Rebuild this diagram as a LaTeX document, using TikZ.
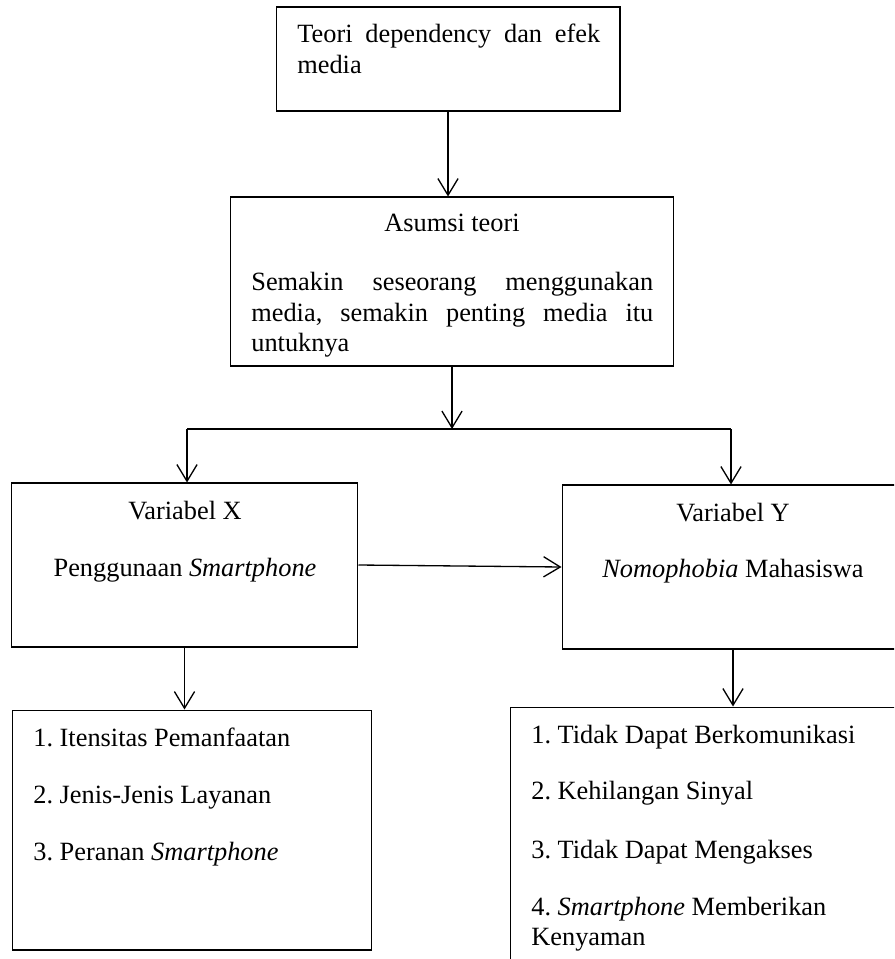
\documentclass[tikz,border=0pt]{standalone}
\usepackage{fontspec}
\setmainfont{Liberation Serif}
\usepackage{tikz}
\usetikzlibrary{arrows.meta}
\hyphenpenalty=10000
\tolerance=9999
\frenchspacing
\setlength{\parindent}{0pt}

\begin{document}
\begin{tikzpicture}[x=0.02cm, y=-0.02cm,
  box/.style={rectangle, draw, line width=0.6pt, inner sep=0pt},
  txt/.style={inner sep=0pt, font=\fontsize{15pt}{17.2pt}\selectfont},
  para/.style={txt, align=justify, anchor=base west},
  arrow/.style={-{Straight Barb[length=9.5pt, width=11.5pt]}, line width=0.75pt}
]
\useasboundingbox (0,0) rectangle (894,959);
\clip (0,0) rectangle (894,959);

% Teori
\node[box, minimum width=6.88cm, minimum height=2.08cm] (teori) at (448,59) {};
\node[para, text width=6.06cm] (teoriTxt) at (297,43) {Teori dependency dan efek media};

% Asumsi
\node[box, minimum width=8.88cm, minimum height=3.38cm] (asumsi) at (452,281.5) {};
\node[txt, anchor=base] (asumsiHead) at (452,232) {Asumsi teori};
\node[para, text width=8.04cm] (asumsiTxt) at (251,291) {Semakin seseorang menggunakan media, semakin penting media itu untuknya};

% Variabel X
\node[box, minimum width=6.94cm, minimum height=3.28cm] (varX) at (184.5,565) {};
\node[txt, anchor=base] (varXHead) at (185,519) {Variabel X};
\node[txt, anchor=base] (varXTxt) at (185,576) {Penggunaan \textit{Smartphone}};

% Variabel Y
\node[box, minimum width=6.84cm, minimum height=3.28cm] (varY) at (733,567) {};
\node[txt, anchor=base] (varYHead) at (733,521) {Variabel Y};
\node[txt, anchor=base] (varYTxt) at (733,577) {\textit{Nomophobia} Mahasiswa};

% Indikator X
\node[box, minimum width=7.2cm, minimum height=4.8cm] (indX) at (192,830) {};
\node[txt, anchor=base west] (indX1) at (33,746) {1. Itensitas Pemanfaatan};
\node[txt, anchor=base west] (indX2) at (33,803) {2. Jenis-Jenis Layanan};
\node[txt, anchor=base west] (indX3) at (33,860) {3. Peranan \textit{Smartphone}};

% Indikator Y
\node[box, minimum width=7.88cm, minimum height=5.46cm] (indY) at (707,843.5) {};
\node[txt, anchor=base west] (indY1) at (531,743) {1. Tidak Dapat Berkomunikasi};
\node[txt, anchor=base west] (indY2) at (531,799) {2. Kehilangan Sinyal};
\node[txt, anchor=base west] (indY3) at (531,858) {3. Tidak Dapat Mengakses};
\node[txt, anchor=base west] (indY4) at (531,915) {\begin{tabular}[t]{@{}l@{}}4. \textit{Smartphone} Memberikan\\Kenyaman\end{tabular}};

% Connectors
\coordinate (split) at (452,429);
\coordinate (splitL) at (187,429);
\coordinate (splitR) at (731,429);
\draw[arrow] (teori.south) -- (teori.south |- asumsi.north);
\draw[arrow] (asumsi.south) -- (split);
\draw[line width=1pt] (splitL) -- (splitR);
\draw[arrow] (splitL) -- (splitL |- varX.north);
\draw[arrow] (splitR) -- (splitR |- varY.north);
\draw[arrow] (varX.east) -- (varY.west);
\draw[arrow] (varX.south) -- (varX.south |- indX.north);
\draw[arrow] (varY.south) -- (varY.south |- indY.north);

\end{tikzpicture}
\end{document}
